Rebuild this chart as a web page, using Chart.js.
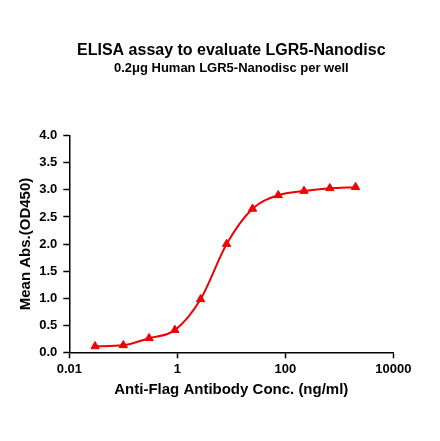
<!DOCTYPE html>
<html>
<head>
<meta charset="utf-8">
<script src="https://cdn.jsdelivr.net/npm/chart.js@4.4.0/dist/chart.umd.min.js"></script>
<style>
  html, body { margin: 0; padding: 0; background: #fff; }
  #wrap { width: 440px; height: 441px; }
</style>
</head>
<body>
<div id="wrap"><canvas id="c" width="440" height="441"></canvas></div>
<script>
const titleText = 'ELISA assay to evaluate LGR5-Nanodisc';
const subtitleText = '0.2\u03bcg Human LGR5-Nanodisc per well';
const xTitle = 'Anti-Flag Antibody Conc. (ng/ml)';
const yTitle = 'Mean Abs.(OD450)';

const concentrations = [0.03, 0.1, 0.3, 0.9, 2.7, 8.2, 24.7, 74, 222, 667, 2000];
const meanAbs = [0.11, 0.13, 0.26, 0.41, 0.98, 2.0, 2.65, 2.9, 2.98, 3.03, 3.05];

const xTickValues = [0.01, 1, 100, 10000];
const xTickLabels = ['0.01', '1', '100', '10000'];

const FONT = "'Liberation Sans', Arial, Helvetica, sans-serif";
const RED = 'rgb(240,0,0)';

const points = concentrations.map((c, i) => ({ x: c, y: meanAbs[i] }));

new Chart(document.getElementById('c'), {
  type: 'line',
  data: {
    datasets: [{
      data: points,
      borderColor: RED,
      backgroundColor: RED,
      borderWidth: 2,
      cubicInterpolationMode: 'monotone',
      pointStyle: 'triangle',
      pointRadius: 4.8,
      pointBorderWidth: 1,
      pointBackgroundColor: RED,
      pointBorderColor: RED,
      fill: false
    }]
  },
  options: {
    responsive: false,
    animation: false,
    devicePixelRatio: 1,
    layout: { padding: { left: 0, right: 46.7, top: 0, bottom: 0 } },
    plugins: {
      legend: { display: false },
      tooltip: { enabled: false },
      title: {
        display: true,
        fullSize: false,
        text: titleText,
        color: '#000',
        font: { family: FONT, size: 16, weight: 'bold', lineHeight: 1.2 },
        padding: { top: 41, bottom: 0 }
      },
      subtitle: {
        display: true,
        fullSize: false,
        text: subtitleText,
        color: '#000',
        font: { family: FONT, size: 13, weight: 'bold', lineHeight: 1.2 },
        padding: { top: 0, bottom: 59.9 }
      }
    },
    scales: {
      x: {
        type: 'logarithmic',
        position: 'bottom',
        min: 0.01,
        max: 10000,
        afterBuildTicks: (scale) => { scale.ticks = xTickValues.map(v => ({ value: v })); },
        afterFit: (scale) => { scale.height = 88.7; },
        ticks: {
          color: '#000',
          padding: 3,
          autoSkip: false,
          maxRotation: 0,
          font: { family: FONT, size: 13, weight: 'bold' },
          callback: (v) => { const i = xTickValues.indexOf(v); return i >= 0 ? xTickLabels[i] : ''; }
        },
        grid: { drawOnChartArea: false, drawTicks: true, tickLength: 6, tickWidth: 1.5, tickColor: '#000' },
        border: { display: true, color: '#000', width: 1.5 },
        title: {
          display: true,
          text: xTitle,
          color: '#000',
          font: { family: FONT, size: 15, weight: 'bold', lineHeight: 1.2 },
          padding: { top: 0, bottom: 41.7 }
        }
      },
      y: {
        type: 'linear',
        position: 'left',
        min: 0,
        max: 4,
        afterFit: (scale) => { scale.width = 69.3; },
        ticks: {
          stepSize: 0.5,
          color: '#000',
          padding: 6,
          font: { family: FONT, size: 13, weight: 'bold' },
          callback: (v) => Number(v).toFixed(1)
        },
        grid: { drawOnChartArea: false, drawTicks: true, tickLength: 6, tickWidth: 1.5, tickColor: '#000' },
        border: { display: true, color: '#000', width: 1.5 },
        title: {
          display: true,
          text: yTitle,
          color: '#000',
          font: { family: FONT, size: 15, weight: 'bold', lineHeight: 1.2 },
          padding: { top: 17.2, bottom: 0 }
        }
      }
    }
  }
});
</script>
</body>
</html>
